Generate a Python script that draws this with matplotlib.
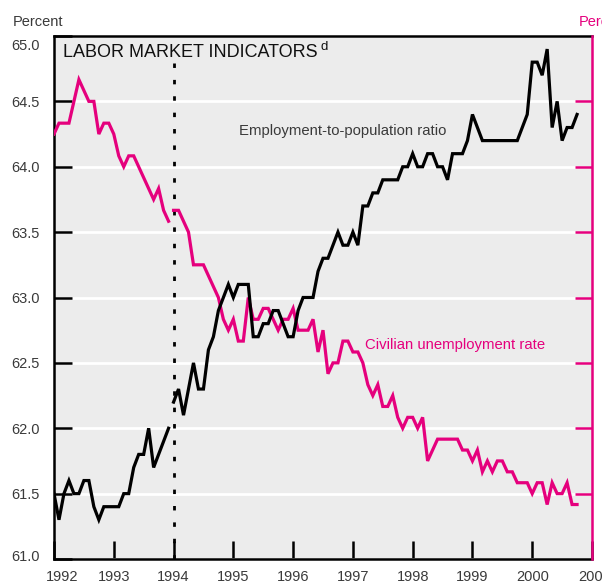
import numpy as np
import matplotlib.pyplot as plt
from matplotlib.transforms import ScaledTranslation

# ==========================================
# DATA  (monthly, Jan 1992 - Oct 2000; series break at Jan 1994)
# ==========================================

# employment-to-population ratio, percent
emp_pop_9293 = [61.5, 61.3, 61.5, 61.6, 61.5, 61.5, 61.6, 61.6, 61.4, 61.3, 61.4, 61.4,
                61.4, 61.4, 61.5, 61.5, 61.7, 61.8, 61.8, 62.0, 61.7, 61.8, 61.9, 62.0]

emp_pop_9400 = [62.2, 62.3, 62.1, 62.3, 62.5, 62.3, 62.3, 62.6, 62.7, 62.9, 63.0, 63.1,
                63.0, 63.1, 63.1, 63.1, 62.7, 62.7, 62.8, 62.8, 62.9, 62.9, 62.8, 62.7,
                62.7, 62.9, 63.0, 63.0, 63.0, 63.2, 63.3, 63.3, 63.4, 63.5, 63.4, 63.4,
                63.5, 63.4, 63.7, 63.7, 63.8, 63.8, 63.9, 63.9, 63.9, 63.9, 64.0, 64.0,
                64.1, 64.0, 64.0, 64.1, 64.1, 64.0, 64.0, 63.9, 64.1, 64.1, 64.1, 64.2,
                64.4, 64.3, 64.2, 64.2, 64.2, 64.2, 64.2, 64.2, 64.2, 64.2, 64.3, 64.4,
                64.8, 64.8, 64.7, 64.9, 64.3, 64.5, 64.2, 64.3, 64.3, 64.4]

# civilian unemployment rate, percent (right scale)
unemp_9293 = [7.3, 7.4, 7.4, 7.4, 7.6, 7.8, 7.7, 7.6, 7.6, 7.3, 7.4, 7.4,
              7.3, 7.1, 7.0, 7.1, 7.1, 7.0, 6.9, 6.8, 6.7, 6.8, 6.6, 6.5]

unemp_9400 = [6.6, 6.6, 6.5, 6.4, 6.1, 6.1, 6.1, 6.0, 5.9, 5.8, 5.6, 5.5,
              5.6, 5.4, 5.4, 5.8, 5.6, 5.6, 5.7, 5.7, 5.6, 5.5, 5.6, 5.6,
              5.7, 5.5, 5.5, 5.5, 5.6, 5.3, 5.5, 5.1, 5.2, 5.2, 5.4, 5.4,
              5.3, 5.3, 5.2, 5.0, 4.9, 5.0, 4.8, 4.8, 4.9, 4.7, 4.6, 4.7,
              4.7, 4.6, 4.7, 4.3, 4.4, 4.5, 4.5, 4.5, 4.5, 4.5, 4.4, 4.4,
              4.3, 4.4, 4.2, 4.3, 4.2, 4.3, 4.3, 4.2, 4.2, 4.1, 4.1, 4.1,
              4.0, 4.1, 4.1, 3.9, 4.1, 4.0, 4.0, 4.1, 3.9, 3.9]

years = list(range(1992, 2002))
left_ticks = [61.0, 61.5, 62.0, 62.5, 63.0, 63.5, 64.0, 64.5, 65.0]
right_ticks = [4.0, 4.6, 5.2, 5.8, 6.4, 7.0, 7.6]

x_9293 = 1992 + np.arange(len(emp_pop_9293)) / 12
x_9400 = 1994 + np.arange(len(emp_pop_9400)) / 12

# ==========================================
# STYLE
# ==========================================

PINK = '#e5007d'
GREY = '#3a3a3a'
BG = '#ececec'

plt.rcParams['font.family'] = ['Liberation Sans', 'DejaVu Sans']

fig = plt.figure(figsize=(6.02, 5.86), dpi=100)
ax = fig.add_axes([54 / 602, 27 / 586, 538 / 602, 523 / 586])
ax2 = ax.twinx()

ax.set_facecolor(BG)
ax.set_xlim(1992, 2001)
ax.set_ylim(61.0, 65.0)
ax2.set_ylim(3.4, 8.2)

# ==========================================
# LINES
# ==========================================

ax.yaxis.grid(True, color='white', lw=2.0)
ax.set_axisbelow(True)

ax.plot([1994, 1994], [64.79, 61.0], color='black', lw=2.0,
        dashes=(1.6, 4.3), zorder=2)

for xs, ys in [(x_9293, unemp_9293), (x_9400, unemp_9400)]:
    ax.plot(xs, ys, color=PINK, lw=2.3, transform=ax2.transData,
            solid_joinstyle='miter', zorder=3)

for xs, ys in [(x_9293, emp_pop_9293), (x_9400, emp_pop_9400)]:
    ax.plot(xs, ys, color='black', lw=2.3, solid_joinstyle='miter', zorder=4)

# ==========================================
# AXES
# ==========================================

ax.set_xticks(years, [str(y) for y in years])
ax.set_yticks(left_ticks, [f'{t:.1f}' for t in left_ticks])
ax2.set_yticks(right_ticks)

ax.tick_params(axis='y', direction='in', length=13, width=1.8, color='black',
               labelcolor=GREY, labelsize=10.5, pad=10)
ax.tick_params(axis='x', direction='in', length=13, width=1.8, color='black',
               labelcolor=GREY, labelsize=10.5, pad=8)
# right-scale values sit past the figure edge, so only the marks are drawn
ax2.tick_params(axis='y', direction='in', length=12.5, width=1.8, color=PINK,
                labelright=False)

for side in ['left', 'top', 'bottom']:
    ax.spines[side].set_linewidth(1.8)
    ax2.spines[side].set_visible(False)
ax.spines['right'].set_visible(False)
ax2.spines['right'].set_color(PINK)
ax2.spines['right'].set_linewidth(1.8)


def nudge(label, dx, dy):
    label.set_transform(label.get_transform()
                        + ScaledTranslation(dx / 100, dy / 100, fig.dpi_scale_trans))


xlabels = ax.get_xticklabels()
ylabels = ax.get_yticklabels()
nudge(xlabels[0], 8, 0)
nudge(xlabels[-1], 3, 0)
nudge(ylabels[0], 0, 3.5)
nudge(ylabels[-1], 0, -8)

# ==========================================
# TEXT
# ==========================================

fig.text(12.7 / 602, 1 - 26 / 586, 'Percent', color=GREY, fontsize=10.5, va='baseline')
fig.text(578.3 / 602, 1 - 26 / 586, 'Percent', color=PINK, fontsize=10.5, va='baseline')

title = ax.text(0.0162, 0.9604, 'LABOR MARKET INDICATORS', transform=ax.transAxes,
                fontsize=13, color='#111111', va='baseline')
ax.annotate('d', xy=(1, 1), xycoords=title, xytext=(2, 2),
            textcoords='offset points', fontsize=9.5, color='#111111',
            va='top', ha='left')

ax.text(1995.1, 64.244, 'Employment-to-population ratio', color=GREY,
        fontsize=10.7, va='baseline')
ax2.text(1997.2, 5.33, 'Civilian unemployment rate', color=PINK,
         fontsize=10.7, va='baseline')

fig.savefig('out.png', dpi=100)
